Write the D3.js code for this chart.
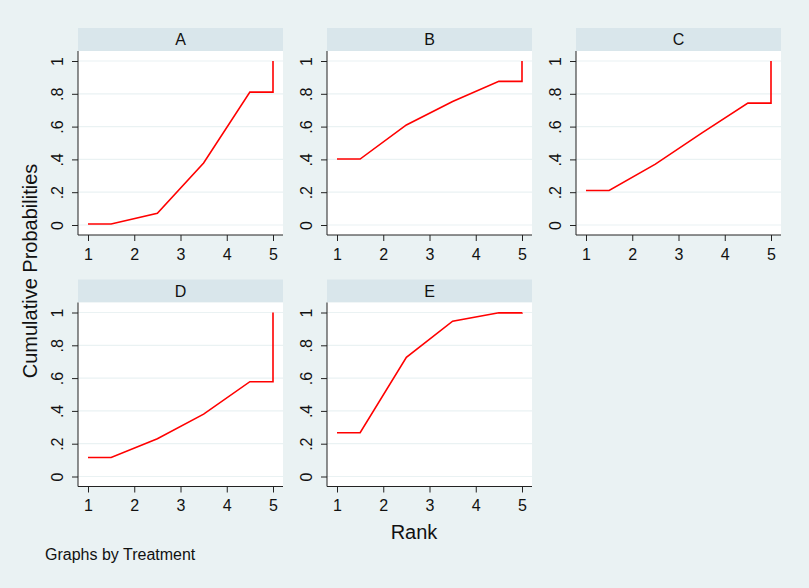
<!DOCTYPE html>
<html>
<head>
<meta charset="utf-8">
<script src="https://cdn.jsdelivr.net/npm/d3@7"></script>
<style>
  body { margin: 0; background: #eaf2f3; }
  svg { display: block; font-family: "Liberation Sans", Arial, sans-serif; }
</style>
</head>
<body>
<svg id="chart" width="809" height="588"></svg>
<script>
// 各治疗的累积排序概率
var treatments = ["A", "B", "C", "D", "E"];
var rankX = [1, 1.5, 2.5, 3.5, 4.5, 5, 5];
var cumA = [0.006, 0.006, 0.071, 0.378, 0.81, 0.81, 1];
var cumB = [0.402, 0.402, 0.61, 0.753, 0.876, 0.876, 1];
var cumC = [0.21, 0.21, 0.371, 0.56, 0.743, 0.743, 1];
var cumD = [0.116, 0.116, 0.23, 0.38, 0.578, 0.578, 1];
var cumE = [0.267, 0.267, 0.727, 0.947, 0.998, 0.998, 1];
var series = [cumA, cumB, cumC, cumD, cumE];

var xTicks = [1, 2, 3, 4, 5];
var yTicks = [0, 0.2, 0.4, 0.6, 0.8, 1];
var yTickLabels = ["0", ".2", ".4", ".6", ".8", "1"];

// 面板布局
var colLeft = [78, 327, 576],
  rowTop = [28, 279.5],
  panelW = 205,
  stripH = 23,
  plotH = 184,
  pad = 10;

var svg = d3.select("#chart");

svg.append("rect")
  .attr("width", 809).attr("height", 588)
  .attr("fill", "#eaf2f3");

var x = d3.scaleLinear()
  .domain([1, 5])
  .range([pad, panelW - pad]);

var y = d3.scaleLinear()
  .domain([0, 1])
  .range([plotH - pad, pad]);

var line = d3.line()
  .x(function (d) { return x(d[0]); })
  .y(function (d) { return y(d[1]); });

treatments.forEach(function (name, i) {
  var col = i % 3,
    row = Math.floor(i / 3);

  var g = svg.append("g")
    .attr("transform", "translate(" + colLeft[col] + "," + rowTop[row] + ")");

  // 标题条
  g.append("rect")
    .attr("width", panelW).attr("height", stripH)
    .attr("fill", "#d9e6eb");
  g.append("text")
    .attr("x", panelW / 2).attr("y", stripH / 2)
    .attr("dy", "0.36em")
    .attr("text-anchor", "middle")
    .attr("font-size", 16)
    .attr("fill", "#111")
    .text(name);

  var p = g.append("g").attr("transform", "translate(0," + stripH + ")");

  p.append("rect")
    .attr("width", panelW).attr("height", plotH)
    .attr("fill", "#fff");

  // 网格线
  p.selectAll("line.grid")
    .data(yTicks)
    .enter().append("line")
    .attr("class", "grid")
    .attr("x1", 0).attr("x2", panelW)
    .attr("y1", function (d) { return y(d); })
    .attr("y2", function (d) { return y(d); })
    .attr("stroke", "#eaf2f3")
    .attr("stroke-width", 1.2);

  // y 轴
  var yAxis = p.append("g")
    .call(d3.axisLeft(y).tickValues(yTicks).tickSize(6).tickFormat(function (d, j) { return yTickLabels[j]; }));
  yAxis.select(".domain").attr("d", "M0,0V" + plotH).attr("stroke", "#222");
  yAxis.selectAll(".tick line").attr("stroke", "#222");
  yAxis.selectAll(".tick text")
    .attr("font-size", 16)
    .attr("fill", "#111")
    .attr("x", null).attr("dy", null)
    .attr("text-anchor", "middle")
    .attr("transform", "translate(-15,0) rotate(-90)");

  // x 轴
  var xAxis = p.append("g")
    .attr("transform", "translate(0," + plotH + ")")
    .call(d3.axisBottom(x).tickValues(xTicks).tickSize(6).tickFormat(d3.format("d")));
  xAxis.select(".domain").attr("d", "M0,0H" + panelW).attr("stroke", "#222");
  xAxis.selectAll(".tick line").attr("stroke", "#222");
  xAxis.selectAll(".tick text")
    .attr("font-size", 16)
    .attr("fill", "#111")
    .attr("y", 13.5);

  // 累积概率曲线
  p.append("path")
    .datum(d3.zip(rankX, series[i]))
    .attr("d", line)
    .attr("fill", "none")
    .attr("stroke", "#ff0000")
    .attr("stroke-width", 1.6);
});

// 轴标题与注释
svg.append("text")
  .attr("transform", "translate(37,271) rotate(-90)")
  .attr("text-anchor", "middle")
  .attr("font-size", 20)
  .attr("fill", "#111")
  .text("Cumulative Probabilities");

svg.append("text")
  .attr("x", 414).attr("y", 539)
  .attr("text-anchor", "middle")
  .attr("font-size", 20)
  .attr("fill", "#111")
  .text("Rank");

svg.append("text")
  .attr("x", 45).attr("y", 560)
  .attr("font-size", 16)
  .attr("fill", "#111")
  .text("Graphs by Treatment");
</script>
</body>
</html>
